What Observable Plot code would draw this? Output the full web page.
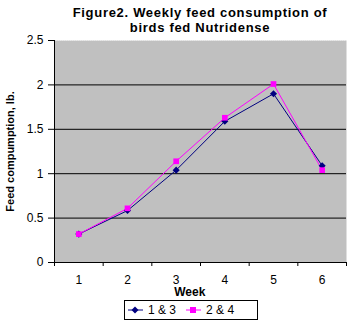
<!DOCTYPE html>
<html><head><meta charset="utf-8">
<script src="https://cdn.jsdelivr.net/npm/d3@7"></script>
<script src="https://cdn.jsdelivr.net/npm/@observablehq/plot@0.6"></script>
<style>
body{margin:0;background:#fff;font-family:"Liberation Sans",Arial,sans-serif;}
#wrap{position:relative;width:350px;height:324px;overflow:hidden;}
#title{position:absolute;left:50px;top:5px;width:300px;text-align:center;font-weight:bold;font-size:13px;line-height:15px;letter-spacing:0.7px;color:#000;z-index:2;}
#chart{position:absolute;left:0;top:26px;z-index:1;}
#legend{position:absolute;left:124px;top:300px;width:132px;height:18px;border:1px solid #000;background:#fff;font-size:12px;display:flex;align-items:center;z-index:2;}
#legend span{display:inline-flex;align-items:center;}
</style></head>
<body><div id="wrap">
<div id="chart"></div>
<div id="title">Figure2. Weekly feed consumption of<br>birds fed Nutridense</div>
<div id="legend"></div>
</div>
<script>
const weeks = [1, 2, 3, 4, 5, 6];
const series13 = [0.32, 0.585, 1.04, 1.59, 1.90, 1.09];
const series24 = [0.32, 0.61, 1.14, 1.63, 2.01, 1.04];
const seriesNames = ["1 & 3", "2 & 4"];
const colors = ["#000080", "#ff00ff"];
const yTicks = [0, 0.5, 1, 1.5, 2, 2.5];

const d13 = weeks.map((w, i) => ({week: w, v: series13[i]}));
const d24 = weeks.map((w, i) => ({week: w, v: series24[i]}));
const bounds = d3.range(0.5, 6.6, 1);

const plot = Plot.plot({
  width: 350, height: 272,
  marginLeft: 54, marginRight: 4, marginTop: 14, marginBottom: 36,
  style: {fontFamily: '"Liberation Sans", Arial, sans-serif', fontSize: "12px", background: "transparent", color: "#000"},
  x: {type: "linear", domain: [0.5, 6.5]},
  y: {domain: [0, 2.5]},
  marks: [
    Plot.frame({fill: "#c0c0c0", stroke: null}),
    Plot.ruleY([2.5], {stroke: "#e8e8e8", strokeDasharray: "1,1"}),
    Plot.ruleY([0.5, 1, 1.5, 2], {stroke: "#000", strokeWidth: 1}),
    Plot.axisY({ticks: yTicks, tickSize: 6, tickPadding: 5, tickFormat: d => String(d), label: null, fontSize: 12}),
    Plot.axisX({ticks: bounds, tickSize: 4, tickFormat: () => "", label: null}),
    Plot.axisX({ticks: weeks, tickSize: 0, tickPadding: 13, tickFormat: d => String(d), label: null, fontSize: 12}),
    Plot.ruleX([0.5], {stroke: "#000"}),
    Plot.ruleY([0], {stroke: "#000"}),
    Plot.text(["Week"], {frameAnchor: "bottom", lineAnchor: "middle", x: 3.28, dy: 30, fontWeight: "bold", fontSize: 12, letterSpacing: "0.6px"}),
    Plot.text(["Feed compumption, lb."], {x: 0.5, y: 1.25, dx: -44, rotate: -90, fontWeight: "bold", fontSize: 11, letterSpacing: "0.3px"}),
    Plot.line(d13, {x: "week", y: "v", stroke: colors[0], strokeWidth: 1}),
    Plot.line(d24, {x: "week", y: "v", stroke: colors[1], strokeWidth: 1}),
    Plot.dot(d13, {x: "week", y: "v", symbol: "diamond2", r: 3.2, fill: colors[0], stroke: null}),
    Plot.dot(d24, {x: "week", y: "v", symbol: "square", r: 3.2, fill: colors[1], stroke: null})
  ]
});
plot.querySelectorAll('[aria-label="text"] text').forEach(t => t.style.letterSpacing = t.getAttribute("letter-spacing"));
document.getElementById("chart").appendChild(plot);

const legend = document.getElementById("legend");
const symbols = ['<path d="M7,1.5 L10.5,5 L7,8.5 L3.5,5Z" fill="' + colors[0] + '"/>', '<rect x="4" y="2" width="6" height="6" fill="' + colors[1] + '"/>'];
seriesNames.forEach((name, i) => {
  const s = document.createElement("span");
  s.style.marginLeft = i === 0 ? "3px" : "10px";
  s.innerHTML = '<svg width="15" height="10" style="margin-right:5px"><line x1="0" x2="15" y1="5" y2="5" stroke="' + colors[i] + '"/>' + symbols[i] + '</svg>' + name;
  legend.appendChild(s);
});
</script>
</body></html>
